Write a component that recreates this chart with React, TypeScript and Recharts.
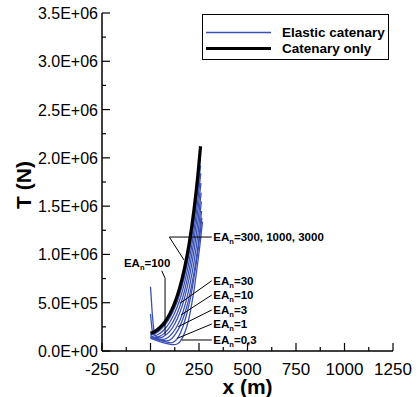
import React from 'react';
import { LineChart, Line, XAxis, YAxis, ReferenceLine, ReferenceDot } from 'recharts';

const FONT = '"Liberation Sans", Arial, Helvetica, sans-serif';
const BLUE = '#3a50b4';

// tension in units of 1E+06 N, x in m
const catenaryOnly = [
  [0, 0.183], [25, 0.206], [50, 0.246], [75, 0.304], [100, 0.387], [125, 0.499],
  [150, 0.651], [175, 0.853], [200, 1.12], [225, 1.476], [245, 1.84], [258, 2.12],
];

const ea3000 = [
  [0, 0.175], [25, 0.197], [50, 0.235], [75, 0.29], [100, 0.37], [125, 0.478],
  [150, 0.625], [175, 0.82], [200, 1.08], [225, 1.42], [245, 1.75], [257, 2.0],
];
const ea1000 = [
  [0, 0.165], [25, 0.183], [50, 0.218], [75, 0.27], [100, 0.345], [125, 0.447],
  [150, 0.585], [175, 0.77], [200, 1.02], [225, 1.35], [245, 1.67], [258, 1.92],
];
const ea300 = [
  [0, 0.383], [6, 0.26], [12, 0.175], [25, 0.16], [50, 0.185], [75, 0.23], [100, 0.3],
  [125, 0.395], [150, 0.525], [175, 0.7], [200, 0.94], [225, 1.26], [245, 1.58], [259, 1.84],
];
const ea100 = [
  [0, 0.666], [8, 0.42], [16, 0.24], [25, 0.16], [35, 0.145], [50, 0.155], [75, 0.19],
  [100, 0.25], [125, 0.335], [150, 0.455], [175, 0.62], [200, 0.85], [225, 1.16],
  [245, 1.47], [260, 1.74],
];
const ea30 = [
  [0, 0.16], [25, 0.14], [45, 0.135], [75, 0.16], [100, 0.205], [125, 0.28], [150, 0.39],
  [175, 0.545], [200, 0.76], [225, 1.05], [245, 1.35], [261, 1.64],
];
const ea10 = [
  [0, 0.15], [30, 0.13], [65, 0.12], [90, 0.14], [115, 0.19], [140, 0.27], [160, 0.36],
  [180, 0.49], [200, 0.66], [225, 0.93], [245, 1.22], [262, 1.55],
];
const ea3 = [
  [0, 0.14], [40, 0.12], [85, 0.105], [110, 0.13], [130, 0.18], [150, 0.25], [170, 0.35],
  [190, 0.48], [210, 0.66], [230, 0.88], [248, 1.14], [263, 1.45],
];
const ea1 = [
  [0, 0.135], [40, 0.115], [80, 0.095], [105, 0.085], [125, 0.1], [145, 0.15], [165, 0.24],
  [185, 0.37], [205, 0.54], [225, 0.77], [245, 1.04], [265, 1.38],
];
const ea03 = [
  [0, 0.13], [30, 0.11], [60, 0.09], [90, 0.075], [120, 0.065], [140, 0.075], [160, 0.12],
  [180, 0.21], [195, 0.31], [210, 0.46], [225, 0.64], [240, 0.86], [255, 1.1], [268, 1.34],
];

const elasticCurves = [ea3000, ea1000, ea300, ea100, ea30, ea10, ea3, ea1, ea03];

const xTicks = [-250, -125, 0, 125, 250, 375, 500, 625, 750, 875, 1000, 1125, 1250];
const yTicks = [0, 0.25, 0.5, 0.75, 1, 1.25, 1.5, 1.75, 2, 2.25, 2.5, 2.75, 3, 3.25, 3.5];

// EA_n tags: anchor (x, T) and the leader polylines pointing into the fan
const tags = [
  { text: '=300, 1000, 3000', x: 324, t: 1.18 },
  { text: '=100', x: -137, t: 0.908 },
  { text: '=30', x: 324, t: 0.728 },
  { text: '=10', x: 324, t: 0.58 },
  { text: '=3', x: 324, t: 0.425 },
  { text: '=1', x: 324, t: 0.28 },
  { text: '=0,3', x: 324, t: 0.114 },
];
const leaders = [
  [[316, 1.18], [97, 1.18]],
  [[97, 1.18], [173, 0.942]],
  [[58, 0.831], [75, 0.753]],
  [[75, 0.753], [75, 0.166]],
  [[316, 0.728], [152, 0.494]],
  [[316, 0.58], [157, 0.373]],
  [[316, 0.425], [143, 0.252]],
  [[316, 0.28], [138, 0.131]],
  [[316, 0.114], [161, 0.114]],
];

const toPoints = (pairs: number[][]) => pairs.map(([x, t]) => ({ x, t }));

function sci(v: number) {
  const n = v * 1e6;
  if (n === 0) return '0.0E+00';
  const e = Math.floor(Math.log10(n) + 1e-9);
  const m = n / Math.pow(10, e);
  return `${m.toFixed(1)}E+${String(e).padStart(2, '0')}`;
}

function XTick({ x, y, payload }: any) {
  const major = payload.value % 250 === 0;
  return (
    <g>
      <line x1={x} x2={x} y1={y} y2={y - (major ? 8 : 4)} stroke="#000" strokeWidth={1.2} />
      {major && (
        <text x={x} y={y + 24} textAnchor="middle" fontSize={17} fontFamily={FONT} fill="#000">
          {payload.value}
        </text>
      )}
    </g>
  );
}

function YTick({ x, y, payload }: any) {
  const v = payload.value;
  const major = Math.abs(v * 2 - Math.round(v * 2)) < 1e-9;
  return (
    <g>
      <line x1={x} x2={x + (major ? 8 : 4)} y1={y} y2={y} stroke="#000" strokeWidth={1.2} />
      {major && (
        <text x={x - 4} y={y + 6} textAnchor="end" fontSize={16} fontFamily={FONT} fill="#000">
          {sci(v)}
        </text>
      )}
    </g>
  );
}

function EaTag({ viewBox, text }: any) {
  return (
    <text x={viewBox.x} y={viewBox.y + 4} fontSize={11.5} fontWeight="bold" fontFamily={FONT} fill="#000">
      EA
      <tspan fontSize={7.5} dy={3}>n</tspan>
      <tspan dy={-3}>{text}</tspan>
    </text>
  );
}

function Legend() {
  return (
    <svg
      width={187}
      height={46}
      style={{ position: 'absolute', left: 201.5, top: 13.5, overflow: 'visible' }}
    >
      <rect x={0.5} y={0.5} width={186} height={45} fill="#fff" stroke="#000" strokeWidth={1} />
      <line x1={4} x2={69} y1={18.5} y2={18.5} stroke={BLUE} strokeWidth={1.3} />
      <line x1={4} x2={69} y1={34.5} y2={34.5} stroke="#000" strokeWidth={3} />
      <text x={80} y={23} fontSize={13.5} fontWeight="bold" fontFamily={FONT}>Elastic catenary</text>
      <text x={80} y={39} fontSize={13.5} fontWeight="bold" fontFamily={FONT}>Catenary only</text>
    </svg>
  );
}

export default function App() {
  return (
    <div style={{ position: 'absolute', left: 0, top: 0, width: 417, height: 397, background: '#fff' }}>
      <LineChart width={417} height={397} margin={{ top: 13, right: 24, left: 0, bottom: 0 }}>
        <XAxis
          type="number"
          dataKey="x"
          domain={[-250, 1250]}
          ticks={xTicks}
          interval={0}
          tickSize={0}
          tickMargin={0}
          tick={<XTick />}
          height={46}
          axisLine={{ stroke: '#000', strokeWidth: 1.5 }}
          label={{
            content: ({ viewBox }: any) => (
              <text
                x={viewBox.x + viewBox.width / 2}
                y={viewBox.y + 43}
                textAnchor="middle"
                fontSize={21}
                fontWeight="bold"
                fontFamily={FONT}
              >
                x (m)
              </text>
            ),
          }}
        />
        <XAxis
          xAxisId="top"
          orientation="top"
          type="number"
          domain={[-250, 1250]}
          height={0}
          tick={false}
          tickLine={false}
          axisLine={{ stroke: '#000', strokeWidth: 1.5 }}
        />
        <YAxis
          type="number"
          domain={[0, 3.5]}
          ticks={yTicks}
          interval={0}
          tickSize={0}
          tickMargin={0}
          tick={<YTick />}
          width={102}
          axisLine={{ stroke: '#000', strokeWidth: 1.5 }}
          label={{
            content: ({ viewBox }: any) => {
              const cx = viewBox.x + 23;
              const cy = viewBox.y + viewBox.height / 2 + 3;
              return (
                <text
                  x={cx}
                  y={cy}
                  transform={`rotate(-90 ${cx} ${cy})`}
                  textAnchor="middle"
                  dominantBaseline="central"
                  fontSize={21}
                  fontWeight="bold"
                  fontFamily={FONT}
                >
                  T (N)
                </text>
              );
            },
          }}
        />
        <YAxis
          yAxisId="right"
          orientation="right"
          type="number"
          domain={[0, 3.5]}
          width={0}
          tick={false}
          tickLine={false}
          axisLine={{ stroke: '#000', strokeWidth: 1.5 }}
        />

        {elasticCurves.map((c, i) => (
          <Line
            key={i}
            data={toPoints(c)}
            dataKey="t"
            type="monotone"
            stroke={BLUE}
            strokeWidth={1.3}
            dot={false}
            activeDot={false}
            isAnimationActive={false}
          />
        ))}
        <Line
          data={toPoints(catenaryOnly)}
          dataKey="t"
          type="monotone"
          stroke="#000"
          strokeWidth={3.2}
          dot={false}
          activeDot={false}
          isAnimationActive={false}
        />

        {leaders.map((seg, i) => (
          <ReferenceLine
            key={`l${i}`}
            segment={[{ x: seg[0][0], y: seg[0][1] }, { x: seg[1][0], y: seg[1][1] }]}
            stroke="#000"
            strokeWidth={1}
          />
        ))}
        {tags.map((tg, i) => (
          <ReferenceDot
            key={`t${i}`}
            x={tg.x}
            y={tg.t}
            r={0}
            fill="none"
            stroke="none"
            label={<EaTag text={tg.text} />}
          />
        ))}
      </LineChart>
      <Legend />
    </div>
  );
}
